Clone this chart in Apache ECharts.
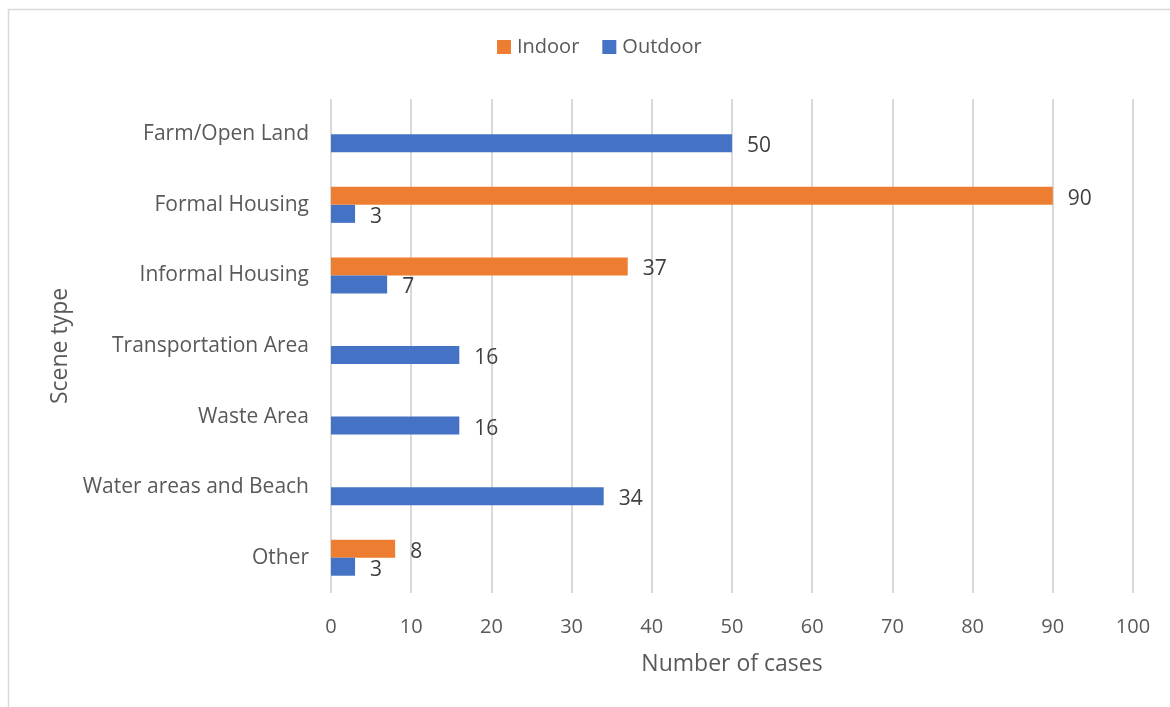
<!DOCTYPE html>
<html>
<head>
<meta charset="utf-8">
<script src="https://cdn.jsdelivr.net/npm/echarts@6/dist/echarts.min.js"></script>
<style>
  html, body { margin: 0; padding: 0; background: #fff; }
  #chart { width: 1170px; height: 707px; }
</style>
</head>
<body>
<div id="chart"></div>
<script>
// categories, top to bottom
const sceneTypes = ["Farm/Open Land", "Formal Housing", "Informal Housing", "Transportation Area", "Waste Area", "Water areas and Beach", "Other"];
// cases per scene type (null = no bar)
const indoorCases = [null, 90, 37, null, null, null, 8];
const outdoorCases = [50, 3, 7, 16, 16, 34, 3];
const xTicks = { min: 0, max: 100, step: 10 };

const chart = echarts.init(document.getElementById("chart"));

const labelStyle = {
  show: true,
  position: "right",
  distance: 15,
  fontSize: 21,
  color: "#404040",
  fontFamily: "Open Sans",
  offset: [0, 3]
};

const option = {
  animation: false,
  textStyle: { fontFamily: "Open Sans" },
  graphic: [
    {
      type: "rect",
      shape: { x: 8.5, y: 9.5, width: 1300, height: 900 },
      style: { fill: "none", stroke: "#d9d9d9", lineWidth: 1.5 },
      silent: true
    }
  ],
  legend: {
    top: 32,
    left: 492,
    itemWidth: 14,
    itemHeight: 14,
    itemGap: 23,
    icon: "rect",
    textStyle: { fontSize: 20, color: "#595959", fontFamily: "Open Sans", padding: [0, 0, 0, 1] },
    data: ["Indoor", "Outdoor"]
  },
  grid: { left: 331, right: 37, top: 99, bottom: 114 },
  xAxis: {
    type: "value",
    min: xTicks.min,
    max: xTicks.max,
    interval: xTicks.step,
    name: "Number of cases",
    nameLocation: "middle",
    nameGap: 60,
    nameTextStyle: { fontSize: 23, color: "#595959", fontFamily: "Open Sans" },
    axisLine: { show: false },
    axisTick: { show: false },
    axisLabel: { fontSize: 20, color: "#595959", margin: 24, fontFamily: "Open Sans" },
    splitLine: { lineStyle: { color: "#d9d9d9", width: 2 } }
  },
  yAxis: {
    type: "category",
    inverse: true,
    data: sceneTypes,
    name: "Scene type",
    nameLocation: "middle",
    nameGap: 257,
    nameTextStyle: { fontSize: 23, color: "#595959", fontFamily: "Open Sans" },
    axisLine: { show: false },
    axisTick: { show: false },
    axisLabel: { fontSize: 21, color: "#595959", margin: 22, fontFamily: "Open Sans", padding: [5, 0, 0, 0] },
    splitLine: { show: false }
  },
  series: [
    {
      name: "Indoor",
      type: "bar",
      barWidth: 18,
      barGap: "0%",
      itemStyle: { color: "#ED7D31" },
      label: labelStyle,
      data: indoorCases
    },
    {
      name: "Outdoor",
      type: "bar",
      barWidth: 18,
      barGap: "0%",
      itemStyle: { color: "#4472C4" },
      label: labelStyle,
      data: outdoorCases
    }
  ]
};

chart.setOption(option);
</script>
</body>
</html>
